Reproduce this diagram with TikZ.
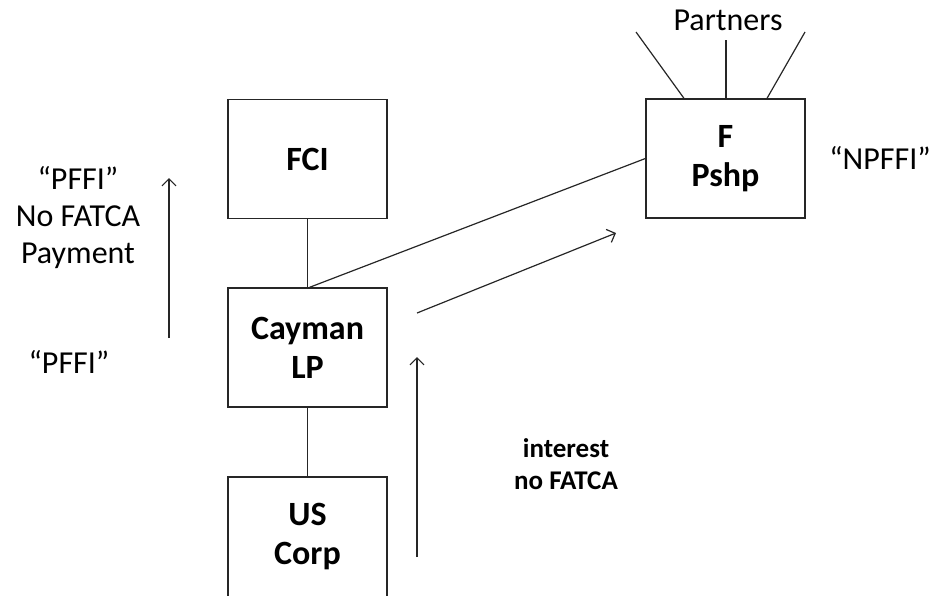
\documentclass[tikz,border=0pt]{standalone}
\usepackage{fontspec}
\setmainfont{Carlito}
\usetikzlibrary{arrows.meta}
\tikzset{
  entity/.style={draw=black!85, line width=1.3pt, minimum width=159pt, minimum height=119pt,
    inner sep=0pt, align=center, font=\fontsize{34}{39}\selectfont\bfseries},
  lbl/.style={align=center, inner sep=0pt, font=\fontsize{32}{37}\selectfont},
  lblb/.style={align=center, inner sep=0pt, font=\fontsize{27}{32}\selectfont\bfseries},
  link/.style={draw=black!85, line width=1.2pt},
  flow/.style={draw=black!85, line width=1.2pt, -{Straight Barb[length=7pt,width=14pt,line width=1.2pt]}}
}
\begin{document}
\begin{tikzpicture}[x=1pt,y=-1pt]
\useasboundingbox (0,0) rectangle (941,595);
\clip (0,0) rectangle (941,595);
% boxes
\node[entity] (fci) at (307.5,159) {FCI};
\node[entity] (cay) at (307.5,347.5) {Cayman\\LP};
\node[entity, minimum height=120pt] (us) at (307.5,537) {US\\Corp};
\node[entity] (fp) at (725.5,158.5) {F\\Pshp};
% labels
\node[lbl] (partners) at (728,20) {Partners};
\node[lbl] (npffi) at (880,158) {“NPFFI”};
\node[lbl] (left) at (78,218) {“PFFI”\\No FATCA\\Payment};
\node[lbl] (pffi) at (69,362) {“PFFI”};
\node[lblb] (int) at (566,464) {interest\\no FATCA};
% connectors
\draw[link] (fci.south) -- (cay.north);
\draw[link] (cay.south) -- (us.north);
\draw[link] ([xshift=2pt]cay.north) -- (fp.west);
\coordinate (pl) at (636,32);
\coordinate (pm) at (726,40);
\coordinate (pr) at (805,32);
\draw[link] (pl) -- ([xshift=-41.5pt]fp.north);
\draw[link] (pm) -- (fp.north -| pm);
\draw[link] (pr) -- ([xshift=41.5pt]fp.north);
% flow arrows
\coordinate (a1s) at (169,338);
\coordinate (a1e) at (169,178);
\draw[flow] (a1s) -- (a1e);
\coordinate (a2s) at (417,557);
\coordinate (a2e) at (417,357);
\draw[flow] (a2s) -- (a2e);
\coordinate (a3s) at (417,313);
\coordinate (a3e) at (616,233);
\draw[flow] (a3s) -- (a3e);
\end{tikzpicture}
\end{document}
